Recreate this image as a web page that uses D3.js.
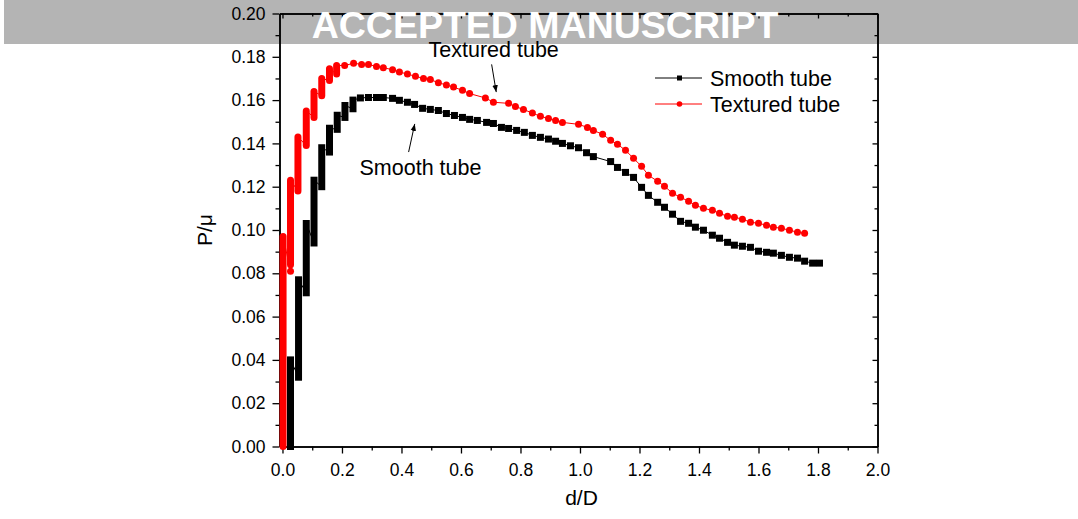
<!DOCTYPE html>
<html>
<head>
<meta charset="utf-8">
<script src="https://cdn.jsdelivr.net/npm/d3@7"></script>
<style>
  html, body { margin: 0; padding: 0; background: #fff; }
  svg { display: block; font-family: Arial, "Liberation Sans", sans-serif; }
</style>
</head>
<body>
<svg id="chart" width="1078" height="519"></svg>
<script>
// ---- Data: pressure ratio P/mu versus distance d/D ----
// Oscillating start-up: vertical runs of samples at one d/D (low -> high)
const smoothRunD    = [0.027, 0.054, 0.080, 0.106, 0.132, 0.158, 0.184, 0.210, 0.237];
const smoothRunLow  = [0.000, 0.032, 0.071, 0.094, 0.120, 0.136, 0.1465, 0.152, 0.156];
const smoothRunHigh = [0.040, 0.077, 0.103, 0.123, 0.138, 0.147, 0.153, 0.1575, 0.160];

const texturedRunD    = [0.002, 0.027, 0.052, 0.080, 0.106, 0.132, 0.158, 0.182];
const texturedRunLow  = [0.000, 0.084, 0.118, 0.139, 0.152, 0.162, 0.169, 0.172];
const texturedRunHigh = [0.097, 0.123, 0.143, 0.155, 0.164, 0.170, 0.1745, 0.176];
const texturedStrayD = [0.027];
const texturedStrayP = [0.081];

// Individual samples after the start-up
const smoothD = [0.262, 0.289, 0.316, 0.339, 0.370, 0.393, 0.420, 0.444, 0.471, 0.497,
  0.524, 0.551, 0.578, 0.605, 0.629, 0.655, 0.686, 0.709, 0.736, 0.760,
  0.787, 0.813, 0.840, 0.867, 0.894, 0.918, 0.941, 0.968, 0.995, 1.022,
  1.045, 1.103, 1.126, 1.153, 1.180, 1.207, 1.230, 1.261, 1.284, 1.311,
  1.338, 1.365, 1.388, 1.415, 1.445, 1.469, 1.496, 1.519, 1.546, 1.573,
  1.600, 1.627, 1.650, 1.677, 1.704, 1.731, 1.755, 1.782, 1.805];
const smoothP = [0.161, 0.1612, 0.1612, 0.1612, 0.1608, 0.1599, 0.159, 0.158, 0.1562, 0.1557,
  0.1552, 0.1538, 0.1529, 0.152, 0.1511, 0.1506, 0.1497, 0.1492, 0.1474, 0.1469,
  0.146, 0.1451, 0.1437, 0.1428, 0.142, 0.141, 0.140, 0.1389, 0.138, 0.1357,
  0.1339, 0.1316, 0.1289, 0.1266, 0.1243, 0.1197, 0.116, 0.1128, 0.1105, 0.1073,
  0.104, 0.1031, 0.1013, 0.0999, 0.0976, 0.0962, 0.0943, 0.093, 0.0925, 0.092,
  0.0902, 0.0897, 0.0893, 0.0883, 0.0874, 0.087, 0.0856, 0.0847, 0.0847];

const texturedD = [0.209, 0.239, 0.266, 0.289, 0.316, 0.339, 0.370, 0.393, 0.420, 0.447,
  0.474, 0.497, 0.524, 0.551, 0.575, 0.605, 0.629, 0.682, 0.709, 0.760,
  0.783, 0.810, 0.840, 0.867, 0.894, 0.918, 0.941, 0.995, 1.025, 1.045,
  1.076, 1.103, 1.126, 1.153, 1.180, 1.207, 1.230, 1.261, 1.284, 1.311,
  1.338, 1.365, 1.388, 1.415, 1.445, 1.469, 1.496, 1.519, 1.546, 1.573,
  1.600, 1.627, 1.650, 1.677, 1.704, 1.731, 1.755];
const texturedP = [0.176, 0.177, 0.1765, 0.1765, 0.1755, 0.175, 0.174, 0.173, 0.172, 0.171,
  0.170, 0.1695, 0.168, 0.167, 0.166, 0.1645, 0.163, 0.161, 0.159, 0.1585,
  0.157, 0.1557, 0.154, 0.1525, 0.1515, 0.1506, 0.1497, 0.1488, 0.1474, 0.146,
  0.1442, 0.1414, 0.1396, 0.1368, 0.1331, 0.1294, 0.1253, 0.1225, 0.1202, 0.117,
  0.1151, 0.1133, 0.1114, 0.110, 0.1091, 0.1077, 0.1063, 0.1059, 0.105, 0.1036,
  0.1031, 0.1022, 0.1013, 0.1008, 0.0999, 0.099, 0.0985];

const seriesNames = ["Smooth tube", "Textured tube"];
const seriesColors = ["#000000", "#ff0000"];
const xTicks = [0.0, 0.2, 0.4, 0.6, 0.8, 1.0, 1.2, 1.4, 1.6, 1.8, 2.0];
const yTicks = [0.00, 0.02, 0.04, 0.06, 0.08, 0.10, 0.12, 0.14, 0.16, 0.18, 0.20];

// ---- Layout ----
const svg = d3.select("#chart");
const plotLeft = 279.5, plotRight = 877.5, plotTop = 13.5, plotBottom = 446.5;
const x = d3.scaleLinear().domain([-0.01, 2.0]).range([plotLeft, plotRight]);
const y = d3.scaleLinear().domain([0, 0.2]).range([plotBottom, plotTop]);
const markerSize = 7;

// Banner strip behind the top of the figure
svg.append("rect").attr("x", 4).attr("y", 0).attr("width", 1074).attr("height", 44)
  .attr("fill", "#b4b4b4");

// ---- Axes ----
const axisFont = 17.5;
const minorX = d3.range(0.1, 2.0, 0.2);
const minorY = d3.range(0.01, 0.2, 0.02);

function styleAxis(g) {
  g.selectAll("path").attr("stroke", "#000").attr("stroke-width", 1.5);
  g.selectAll("line").attr("stroke", "#000").attr("stroke-width", 1.3);
  g.selectAll("text").attr("font-size", axisFont).attr("fill", "#000")
    .attr("font-family", "Arial, 'Liberation Sans', sans-serif");
}

svg.append("g").attr("transform", `translate(0,${plotBottom})`)
  .call(d3.axisBottom(x).tickValues(xTicks).tickFormat(d3.format(".1f"))
    .tickSize(7).tickPadding(10).tickSizeOuter(0))
  .call(styleAxis);
svg.append("g").attr("transform", `translate(0,${plotBottom})`)
  .call(d3.axisBottom(x).tickValues(minorX).tickFormat("").tickSize(4).tickSizeOuter(0))
  .call(styleAxis);

svg.append("g").attr("transform", `translate(${plotLeft},0)`)
  .call(d3.axisLeft(y).tickValues(yTicks).tickFormat(d3.format(".2f"))
    .tickSize(7).tickPadding(7).tickSizeOuter(0))
  .call(styleAxis);
svg.append("g").attr("transform", `translate(${plotLeft},0)`)
  .call(d3.axisLeft(y).tickValues(minorY).tickFormat("").tickSize(4).tickSizeOuter(0))
  .call(styleAxis);

// Top and right frame with inward ticks
svg.append("g").attr("transform", `translate(0,${plotTop})`)
  .call(d3.axisBottom(x).tickValues(xTicks).tickFormat("").tickSize(5).tickSizeOuter(0))
  .call(styleAxis);
svg.append("g").attr("transform", `translate(0,${plotTop})`)
  .call(d3.axisBottom(x).tickValues(minorX).tickFormat("").tickSize(3).tickSizeOuter(0))
  .call(styleAxis);
svg.append("g").attr("transform", `translate(${plotRight},0)`)
  .call(d3.axisLeft(y).tickValues(yTicks).tickFormat("").tickSize(5).tickSizeOuter(0))
  .call(styleAxis);
svg.append("g").attr("transform", `translate(${plotRight},0)`)
  .call(d3.axisLeft(y).tickValues(minorY).tickFormat("").tickSize(3).tickSizeOuter(0))
  .call(styleAxis);

// Axis titles
svg.append("text").attr("x", (plotLeft + plotRight) / 2 + 3).attr("y", 505)
  .attr("text-anchor", "middle").attr("font-size", 21).text("d/D");
svg.append("text").attr("transform", `translate(212,${(plotTop + plotBottom) / 2}) rotate(-90)`)
  .attr("text-anchor", "middle").attr("font-size", 21).text("P/\u03BC");

// ---- Series ----
function buildPath(runD, runLo, runHi, d, p, strayD, strayP) {
  const pts = [];
  runD.forEach((dv, i) => {
    if (strayD) strayD.forEach((sd, j) => { if (sd === dv) pts.push([sd, strayP[j]]); });
    pts.push([dv, runLo[i]], [dv, runHi[i]]);
  });
  d.forEach((dv, i) => pts.push([dv, p[i]]));
  return pts;
}
const line = d3.line().x(q => x(q[0])).y(q => y(q[1]));

const plot = svg.append("g");

// Smooth tube
const sPts = buildPath(smoothRunD, smoothRunLow, smoothRunHigh, smoothD, smoothP);
plot.append("path").attr("d", line(sPts)).attr("fill", "none")
  .attr("stroke", seriesColors[0]).attr("stroke-width", 1);
plot.selectAll(".srun").data(smoothRunD).join("line")
  .attr("x1", d => x(d)).attr("x2", d => x(d))
  .attr("y1", (d, i) => y(smoothRunLow[i])).attr("y2", (d, i) => y(smoothRunHigh[i]))
  .attr("stroke", seriesColors[0]).attr("stroke-width", markerSize).attr("stroke-linecap", "square");
plot.selectAll(".spt").data(smoothD).join("rect")
  .attr("x", d => x(d) - markerSize / 2)
  .attr("y", (d, i) => y(smoothP[i]) - markerSize / 2)
  .attr("width", markerSize).attr("height", markerSize).attr("fill", seriesColors[0]);

// Textured tube
const tPts = buildPath(texturedRunD, texturedRunLow, texturedRunHigh, texturedD, texturedP,
  texturedStrayD, texturedStrayP);
plot.append("path").attr("d", line(tPts)).attr("fill", "none")
  .attr("stroke", seriesColors[1]).attr("stroke-width", 1);
plot.selectAll(".trun").data(texturedRunD).join("line")
  .attr("x1", d => x(d)).attr("x2", d => x(d))
  .attr("y1", (d, i) => y(texturedRunLow[i])).attr("y2", (d, i) => y(texturedRunHigh[i]))
  .attr("stroke", seriesColors[1]).attr("stroke-width", markerSize).attr("stroke-linecap", "round");
plot.selectAll(".tstray").data(texturedStrayD).join("circle")
  .attr("cx", d => x(d)).attr("cy", (d, i) => y(texturedStrayP[i]))
  .attr("r", markerSize / 2).attr("fill", seriesColors[1]);
plot.selectAll(".tpt").data(texturedD).join("circle")
  .attr("cx", d => x(d)).attr("cy", (d, i) => y(texturedP[i]))
  .attr("r", markerSize / 2).attr("fill", seriesColors[1]);

// ---- Annotations with arrows ----
const defs = svg.append("defs");
defs.append("marker").attr("id", "arrowhead").attr("viewBox", "0 0 10 10")
  .attr("refX", 10).attr("refY", 5).attr("markerWidth", 7).attr("markerHeight", 7)
  .attr("orient", "auto-start-reverse").attr("markerUnits", "userSpaceOnUse")
  .append("path").attr("d", "M0,1 L10,5 L0,9 Z").attr("fill", "#000");

const annoFont = 21.5;
svg.append("text").attr("x", x(0.491)).attr("y", y(0.1797)).attr("font-size", annoFont)
  .text("Textured tube");
svg.append("line").attr("x1", x(0.703)).attr("y1", y(0.1765))
  .attr("x2", x(0.7185)).attr("y2", y(0.1637))
  .attr("stroke", "#000").attr("stroke-width", 1).attr("marker-end", "url(#arrowhead)");

svg.append("text").attr("x", x(0.259)).attr("y", y(0.1255)).attr("font-size", annoFont)
  .text("Smooth tube");
svg.append("line").attr("x1", x(0.424)).attr("y1", y(0.136))
  .attr("x2", x(0.4445)).attr("y2", y(0.149))
  .attr("stroke", "#000").attr("stroke-width", 1).attr("marker-end", "url(#arrowhead)");

// ---- Legend ----
const legend = svg.append("g").attr("transform", "translate(655,78)");
seriesNames.forEach((name, i) => {
  const g = legend.append("g").attr("transform", `translate(0,${i * 26})`);
  g.append("line").attr("x1", 0).attr("x2", 47).attr("y1", 0).attr("y2", 0)
    .attr("stroke", seriesColors[i]).attr("stroke-width", 1);
  if (i === 0) {
    g.append("rect").attr("x", 22).attr("y", -2.5).attr("width", 5).attr("height", 5)
      .attr("fill", seriesColors[i]);
  } else {
    g.append("circle").attr("cx", 24.5).attr("cy", 0).attr("r", 2.8).attr("fill", seriesColors[i]);
  }
  g.append("text").attr("x", 55).attr("y", 0).attr("dy", "0.36em")
    .attr("font-size", annoFont).text(name);
});

// ---- Banner title ----
svg.append("text").attr("x", 545).attr("y", 38).attr("text-anchor", "middle")
  .attr("font-size", 37.5).attr("font-weight", "bold").attr("fill", "#fff")
  .text("ACCEPTED MANUSCRIPT");
</script>
</body>
</html>
